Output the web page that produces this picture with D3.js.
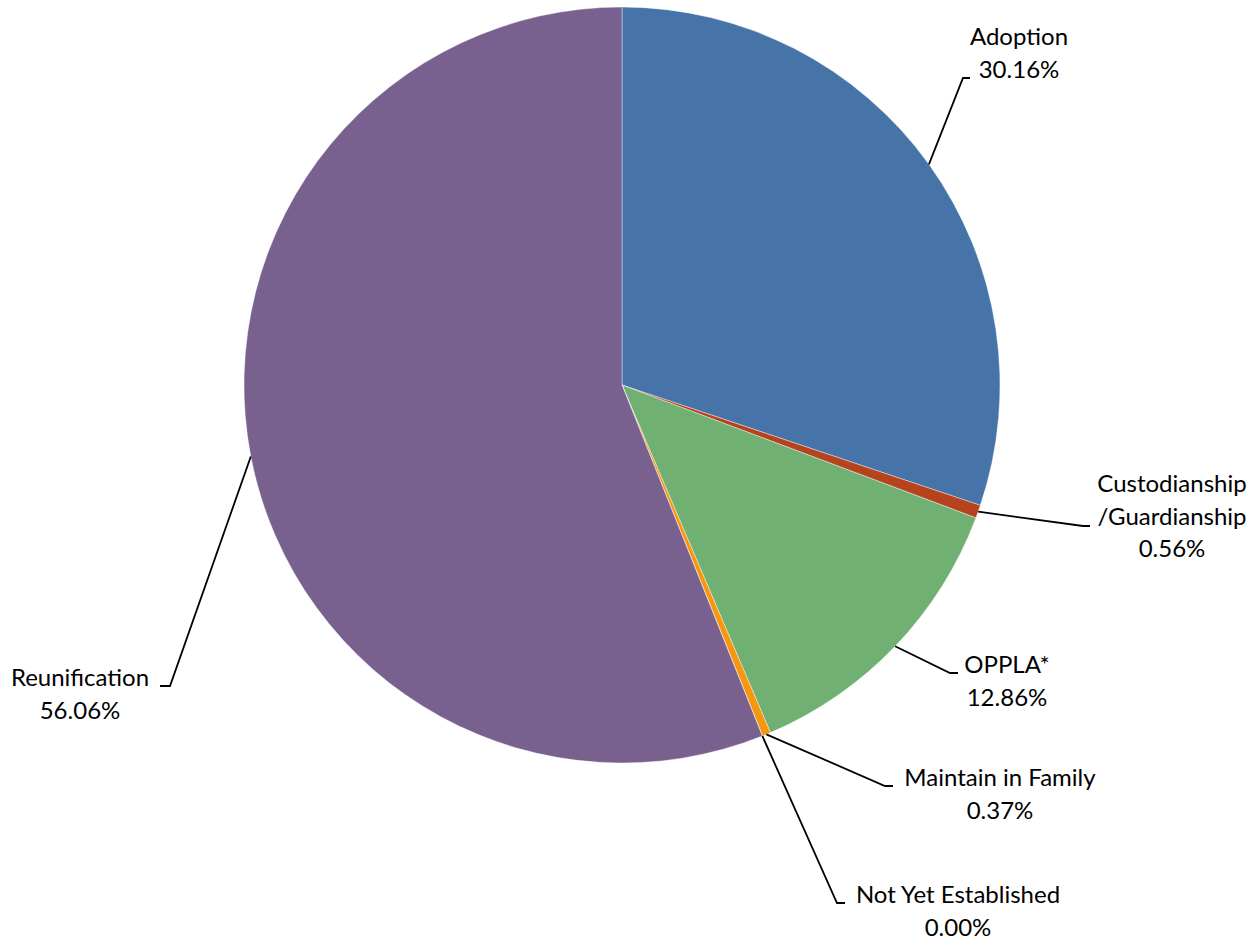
<!DOCTYPE html>
<html>
<head>
<meta charset="utf-8">
<script src="https://cdn.jsdelivr.net/npm/d3@7"></script>
<style>
  body { margin: 0; background: #fff; }
  svg { display: block; }
</style>
</head>
<body>
<div id="chart"></div>
<script>
  // chart data
  var categories = ['Adoption', 'Custodianship\n/Guardianship', 'OPPLA*', 'Maintain in Family', 'Not Yet Established', 'Reunification'];
  var percents = [30.16, 0.56, 12.86, 0.37, 0.00, 56.06];
  var colors = ['#4674A8', '#B5441E', '#70B073', '#F7960F', '#5A9BD5', '#78608F'];

  // label elbow and text centre/first baseline
  var labelLayout = [
    { ex: 963, ey: 78, hx: 970, tx: 1019, ty: 45 },
    { ex: 1083, ey: 526, hx: 1090, tx: 1172, ty: 492 },
    { ex: 950, ey: 673, hx: 958, tx: 1007, ty: 673 },
    { ex: 885, ey: 786, hx: 893, tx: 1000, ty: 786 },
    { ex: 837, ey: 903, hx: 845, tx: 958, ty: 903 },
    { ex: 170, ey: 686, hx: 160, tx: 80, ty: 686 }
  ];

  var width = 1257, height = 942;
  var cx = 622, cy = 385, radius = 378;
  var lineH = 32.5;

  var svg = d3.select('#chart').append('svg')
    .attr('width', width)
    .attr('height', height);

  var pie = d3.pie().sort(null).value(function (d) { return d; });
  var arcs = pie(percents);
  var arc = d3.arc().innerRadius(0).outerRadius(radius);

  var g = svg.append('g').attr('transform', 'translate(' + cx + ',' + cy + ')');

  // slices
  g.selectAll('path')
    .data(arcs)
    .enter()
    .append('path')
    .attr('d', arc)
    .attr('fill', function (d, i) { return colors[i]; })
    .attr('stroke', '#fff')
    .attr('stroke-width', 0.4);

  // leader lines, from slice middle on the rim to the label
  svg.append('g').selectAll('polyline')
    .data(arcs)
    .enter()
    .append('polyline')
    .attr('points', function (d, i) {
      var mid = (d.startAngle + d.endAngle) / 2;
      var px = cx + radius * Math.sin(mid);
      var py = cy - radius * Math.cos(mid);
      var L = labelLayout[i];
      return [[px, py], [L.ex, L.ey], [L.hx, L.ey]].map(function (p) { return p.join(','); }).join(' ');
    })
    .attr('fill', 'none')
    .attr('stroke', '#000')
    .attr('stroke-width', 1.8);

  // labels
  var labels = svg.append('g').selectAll('text')
    .data(arcs)
    .enter()
    .append('text')
    .attr('text-anchor', 'middle')
    .attr('font-family', 'Lato, "Open Sans", sans-serif')
    .attr('font-size', 24)
    .attr('fill', '#000');

  labels.each(function (d, i) {
    var self = d3.select(this);
    var L = labelLayout[i];
    var lines = categories[i].split('\n');
    lines.push(d3.format('.2f')(percents[i]) + '%');
    lines.forEach(function (t, k) {
      self.append('tspan')
        .attr('x', L.tx)
        .attr('y', L.ty + k * lineH)
        .text(t);
    });
  });
</script>
</body>
</html>
